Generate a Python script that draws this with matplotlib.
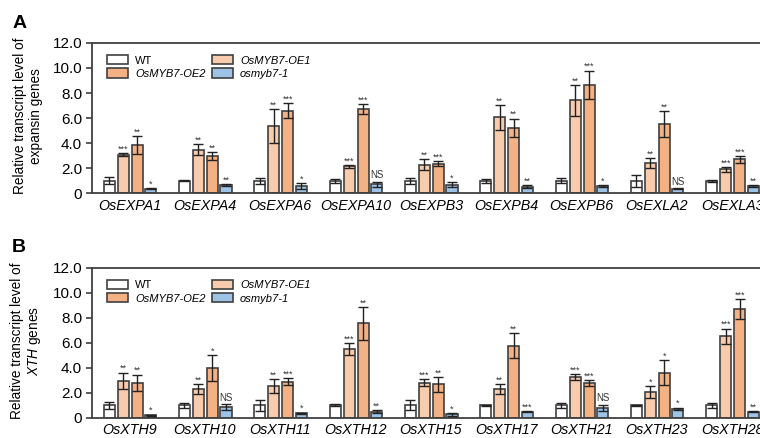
import numpy as np
import matplotlib.pyplot as plt

plt.rcParams['font.family'] = ['Liberation Sans', 'DejaVu Sans']
plt.rcParams['mathtext.fontset'] = 'custom'
plt.rcParams['mathtext.rm'] = 'Liberation Sans'
plt.rcParams['mathtext.it'] = 'Liberation Sans:italic'

lines = ['WT', 'OsMYB7-OE1', 'OsMYB7-OE2', 'osmyb7-1']
colors = ['#FFFFFF', '#F8CBAD', '#F4B183', '#9DC3E6']

# expansin genes
exp_genes = ['OsEXPA1', 'OsEXPA4', 'OsEXPA6', 'OsEXPA10', 'OsEXPB3',
             'OsEXPB4', 'OsEXPB6', 'OsEXLA2', 'OsEXLA3']
exp_wt = [1.0, 1.0, 1.0, 1.0, 1.0, 1.0, 1.0, 1.0, 1.0]
exp_oe1 = [3.08, 3.48, 5.37, 2.13, 2.26, 6.06, 7.42, 2.37, 1.89]
exp_oe2 = [3.86, 2.98, 6.57, 6.73, 2.34, 5.21, 8.64, 5.50, 2.69]
exp_ko = [0.37, 0.66, 0.56, 0.70, 0.69, 0.53, 0.58, 0.35, 0.58]
exp_wt_err = [0.30, 0.05, 0.25, 0.15, 0.25, 0.15, 0.20, 0.47, 0.07]
exp_oe1_err = [0.10, 0.45, 1.35, 0.12, 0.43, 1.00, 1.25, 0.40, 0.20]
exp_oe2_err = [0.70, 0.33, 0.60, 0.42, 0.20, 0.75, 1.15, 1.05, 0.30]
exp_ko_err = [0.05, 0.08, 0.25, 0.20, 0.17, 0.10, 0.07, 0.03, 0.05]
exp_sig_oe1 = ['***', '**', '**', '***', '**', '**', '**', '**', '***']
exp_sig_oe2 = ['**', '**', '***', '***', '***', '**', '***', '**', '***']
exp_sig_ko = ['*', '**', '*', 'NS', '*', '**', '*', 'NS', '**']

# XTH genes
xth_genes = ['OsXTH9', 'OsXTH10', 'OsXTH11', 'OsXTH12', 'OsXTH15',
             'OsXTH17', 'OsXTH21', 'OsXTH23', 'OsXTH28']
xth_wt = [1.0, 1.0, 1.0, 1.0, 1.0, 1.0, 1.0, 1.0, 1.0]
xth_oe1 = [2.97, 2.31, 2.52, 5.50, 2.81, 2.31, 3.24, 2.07, 6.53]
xth_oe2 = [2.79, 4.01, 2.89, 7.54, 2.68, 5.76, 2.79, 3.61, 8.71]
xth_ko = [0.21, 0.85, 0.35, 0.50, 0.29, 0.48, 0.80, 0.72, 0.48]
xth_wt_err = [0.30, 0.22, 0.42, 0.07, 0.40, 0.05, 0.20, 0.03, 0.20]
xth_oe1_err = [0.65, 0.40, 0.55, 0.47, 0.30, 0.40, 0.24, 0.50, 0.60]
xth_oe2_err = [0.67, 1.03, 0.30, 1.30, 0.60, 1.00, 0.26, 1.00, 0.80]
xth_ko_err = [0.05, 0.25, 0.07, 0.10, 0.12, 0.05, 0.26, 0.10, 0.05]
xth_sig_oe1 = ['**', '**', '**', '***', '***', '**', '***', '*', '***']
xth_sig_oe2 = ['**', '*', '***', '**', '**', '**', '***', '*', '***']
xth_sig_ko = ['*', 'NS', '*', '**', '*', '***', 'NS', '*', '**']

fig = plt.figure(figsize=(7.6, 4.38), dpi=100)
ax_a = fig.add_axes([0.121, 0.559, 0.892, 0.343])
ax_b = fig.add_axes([0.121, 0.046, 0.892, 0.343])

offsets = [-0.272, -0.086, 0.100, 0.279]
width = 0.148


def draw_panel(ax, genes, vals, errs, sigs, ylabel):
    x = np.arange(len(genes))
    handles = []
    for k in range(4):
        b = ax.bar(x + offsets[k], vals[k], width, color=colors[k],
                   edgecolor='#404040', linewidth=1.2, label=lines[k], zorder=2)
        ax.errorbar(x + offsets[k], vals[k], yerr=errs[k], fmt='none',
                    ecolor='#222222', elinewidth=1.0, capsize=3.5,
                    capthick=1.0, zorder=3)
        handles.append(b)
        if k > 0:
            for i in range(len(genes)):
                s = sigs[k - 1][i]
                top = vals[k][i] + errs[k][i]
                if s == 'NS':
                    ax.text(x[i] + offsets[k], top + 0.12, s, ha='center',
                            va='bottom', fontsize=7, color='#333333')
                else:
                    ax.text(x[i] + offsets[k], top - 0.05, s, ha='center',
                            va='bottom', fontsize=6.5, color='#333333')
    ax.set_xlim(-0.5, len(genes) - 0.5)
    ax.set_ylim(0, 12)
    ax.set_yticks(np.arange(0, 13, 2))
    ax.set_yticklabels(['0'] + ['%.1f' % v for v in np.arange(2, 13, 2)],
                       fontsize=11)
    ax.set_xticks(x)
    ax.set_xticklabels(genes, fontstyle='italic', fontsize=10.3)
    ax.tick_params(axis='x', length=0, pad=4)
    ax.tick_params(axis='y', length=4, width=1.2, color='#404040', pad=3)
    for sp in ax.spines.values():
        sp.set_color('#404040')
        sp.set_linewidth(1.3)
    ax.spines['right'].set_visible(False)
    ax.set_ylabel(ylabel, fontsize=9.8, linespacing=1.15)
    ax.yaxis.set_label_coords(-0.072, 0.513)
    order = [handles[0], handles[2], handles[1], handles[3]]
    leg = ax.legend(order, [lines[0], lines[2], lines[1], lines[3]], ncol=2,
                    loc='upper left', bbox_to_anchor=(0.008, 0.985),
                    frameon=False, fontsize=8, handlelength=1.9,
                    handleheight=0.9, columnspacing=0.6, labelspacing=0.25,
                    handletextpad=0.6)
    for t in leg.get_texts()[1:]:
        t.set_fontstyle('italic')


draw_panel(ax_a, exp_genes,
           [exp_wt, exp_oe1, exp_oe2, exp_ko],
           [exp_wt_err, exp_oe1_err, exp_oe2_err, exp_ko_err],
           [exp_sig_oe1, exp_sig_oe2, exp_sig_ko],
           'Relative transcript level of\nexpansin genes')
draw_panel(ax_b, xth_genes,
           [xth_wt, xth_oe1, xth_oe2, xth_ko],
           [xth_wt_err, xth_oe1_err, xth_oe2_err, xth_ko_err],
           [xth_sig_oe1, xth_sig_oe2, xth_sig_ko],
           'Relative transcript level of\n$\\mathit{XTH}$ genes')

fig.text(0.016, 0.947, 'A', fontsize=14, fontweight='bold', va='center')
fig.text(0.016, 0.434, 'B', fontsize=14, fontweight='bold', va='center')

fig.savefig('out.png', dpi=100)
